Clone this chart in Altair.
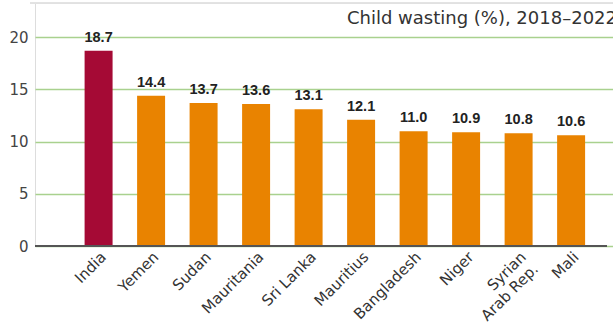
import altair as alt
import pandas as pd

countries = ["India", "Yemen", "Sudan", "Mauritania", "Sri Lanka", "Mauritius",
             "Bangladesh", "Niger", "Syrian\nArab Rep.", "Mali"]
values = [18.7, 14.4, 13.7, 13.6, 13.1, 12.1, 11.0, 10.9, 10.8, 10.6]
highlight = ["yes", "no", "no", "no", "no", "no", "no", "no", "no", "no"]
y_ticks = [0, 5, 10, 15, 20]
title_text = "Child wasting (%), 2018\u20132022"

df = pd.DataFrame({"country": countries, "value": values, "hl": highlight})
df["label"] = df["value"].map(lambda v: f"{v:.1f}")

W, H = 578, 243

xscale = alt.Scale(domain=countries, paddingInner=0.467, paddingOuter=0.738, align=0.64)
yscale = alt.Scale(domain=[0, 23.27], nice=False, zero=True)

base = alt.Chart(df)

bars = base.mark_bar().encode(
    x=alt.X("country:N", sort=countries, scale=xscale,
            axis=alt.Axis(title=None, labelAngle=-45, labelAlign="right", labelBaseline="top",
                          labelFont="DejaVu Sans", labelFontSize=15, labelColor="#333333",
                          ticks=False, domain=False, labelPadding=3,
                          labelExpr="split(datum.label, '\\n')", labelLineHeight=17)),
    y=alt.Y("value:Q", scale=yscale,
            axis=alt.Axis(title=None, values=y_ticks, ticks=False, domain=False,
                          labelFont="DejaVu Sans", labelFontSize=15, labelColor="#444444",
                          labelPadding=7, grid=True, gridColor="#a9d18e", gridWidth=1.5)),
    color=alt.Color("hl:N", scale=alt.Scale(domain=["yes", "no"], range=["#a50a35", "#e98300"]),
                    legend=None),
)

text = base.mark_text(font="Liberation Sans", fontWeight="bold", fontSize=14.5,
                      color="#222222", baseline="alphabetic", dy=-9).encode(
    x=alt.X("country:N", sort=countries, scale=xscale),
    y=alt.Y("value:Q", scale=yscale),
    text="label:N",
)

zero_line = base.mark_rule(color="#555555", strokeWidth=2).encode(
    y=alt.datum(0, scale=yscale), x=alt.value(0), x2=alt.value(572)
)

top_line = base.mark_rule(color="#e2e2e2", strokeWidth=1).encode(
    y=alt.value(0), x=alt.value(-5), x2=alt.value(W)
)

title = alt.Chart(pd.DataFrame({"t": [title_text]})).mark_text(
    font="DejaVu Sans", fontSize=18, fontWeight="normal", color="#333333",
    align="right", baseline="middle").encode(
    x=alt.value(582), y=alt.value(16), text="t:N"
)

chart = alt.layer(bars, zero_line, text, top_line, title).properties(
    width=W, height=H,
    autosize=alt.AutoSizeParams(type="none"),
    padding={"left": 35, "top": 3, "right": 0, "bottom": 81},
).configure_view(stroke=None).configure(background="white")

chart.save("out.html", embed_options={"renderer": "svg", "actions": False})
